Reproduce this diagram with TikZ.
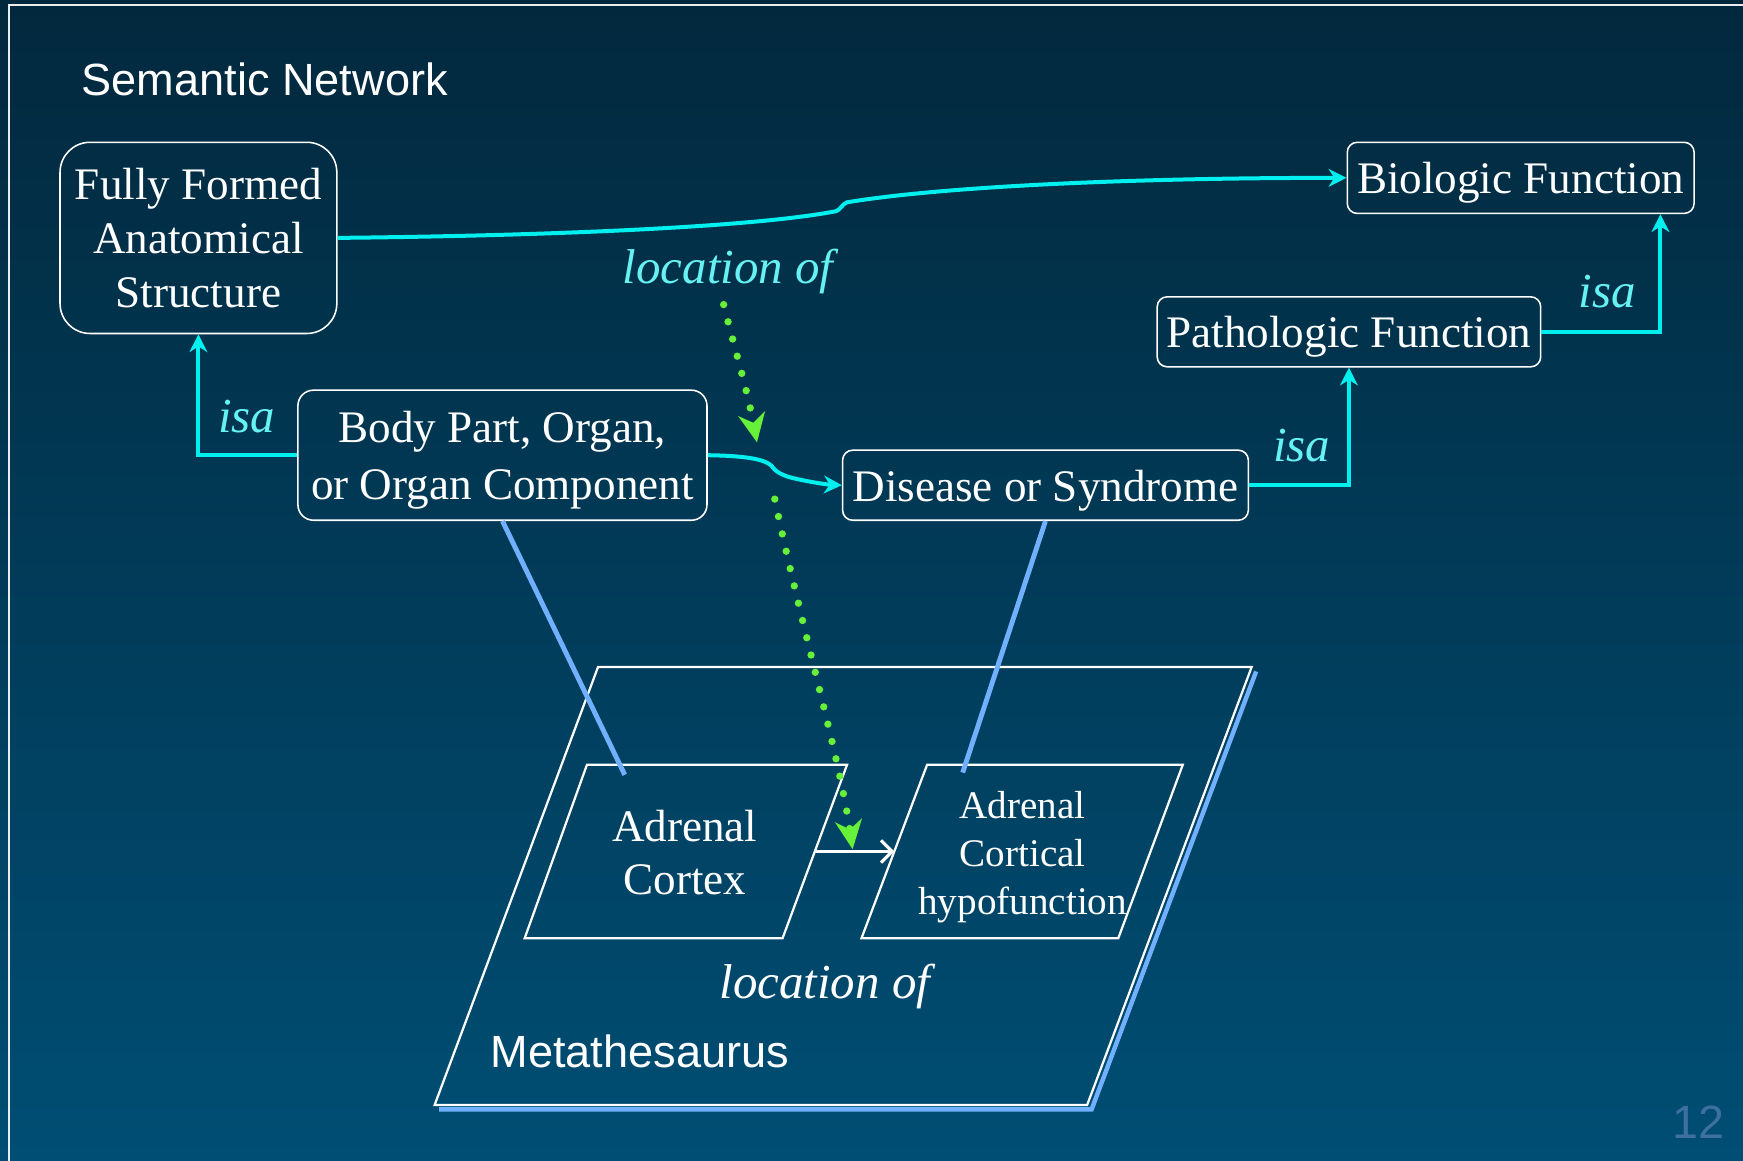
\documentclass[tikz,border=0pt]{standalone}
\usepackage{fontspec}
\setmainfont{Liberation Serif}
\setsansfont{Liberation Sans}
\usetikzlibrary{arrows.meta,calc}

\definecolor{bgtop}{HTML}{02283D}
\definecolor{bgbot}{HTML}{004E74}
\definecolor{cyanline}{HTML}{00F0F0}
\definecolor{cyanlabel}{HTML}{66F2F2}
\definecolor{lblue}{HTML}{70B0FF}
\definecolor{dotgreen}{HTML}{66F03A}
\definecolor{pagenum}{HTML}{3D6F9F}

\begin{document}
\begin{tikzpicture}[x=0.5pt,y=-0.5pt,
  box/.style={draw=white,line width=0.7pt,text=white,font=\fontsize{20.3}{24.3}\selectfont,align=center,inner sep=0pt},
  sbox/.style={box,rounded corners=4.5pt,text height=16pt,text depth=1.5pt},
  lbl/.style={text=cyanlabel,font=\fontsize{22}{26}\selectfont\itshape,inner sep=0pt},
  wtext/.style={text=white,align=center,inner sep=0pt},
  cyanarrow/.style={draw=cyanline,line width=1.8pt,-{Stealth[length=8pt,width=8pt,inset=2.5pt]}},
  greendot/.style={draw=dotgreen,line width=3.3pt,line cap=round,dash pattern=on 0pt off 8pt,-{Stealth[length=13pt,width=12pt,inset=4pt]}},
  lbline/.style={draw=lblue,line width=2.2pt},
  para/.style={draw=white,line width=1pt}
]
% background
\shade[top color=bgtop,bottom color=bgbot] (0,0) rectangle (1568,1044);
\useasboundingbox (0,0) rectangle (1568,1044);
% frame
\draw[white!92!bgtop,line width=0.9pt] (8,1044) -- (8,4.5) -- (1568,4.5);

% title
\node[anchor=base west,text=white,inner sep=0pt,font=\sffamily\fontsize{20.3}{24}\selectfont] (title) at (73,85.5) {Semantic Network};

% Metathesaurus plane
\coordinate (mTL) at (538,600);
\coordinate (mTR) at (1126,600);
\coordinate (mBR) at (978,994);
\coordinate (mBL) at (391,994);
\draw[lblue,line width=2pt] ($(mTR)+(4,4)$) -- ($(mBR)+(4,4)$) -- ($(mBL)+(4,4)$);
\draw[para] (mTL) -- (mTR) -- (mBR) -- (mBL) -- cycle;

% inner parallelograms
\coordinate (acTL) at (528,688);
\coordinate (acTR) at (762,688);
\coordinate (acBR) at (704,844);
\coordinate (acBL) at (472,844);
\draw[para] (acTL) -- (acTR) -- (acBR) -- (acBL) -- cycle;
\coordinate (hfTL) at (834,688);
\coordinate (hfTR) at (1064,688);
\coordinate (hfBR) at (1006,844);
\coordinate (hfBL) at (775,844);
\draw[para] (hfTL) -- (hfTR) -- (hfBR) -- (hfBL) -- cycle;

\node[wtext,font=\fontsize{20.3}{24}\selectfont] (actext) at (616,767) {Adrenal\\Cortex};
\node[wtext,font=\fontsize{17.6}{21.5}\selectfont] (hftext) at (920,771) {Adrenal\\Cortical\\hypofunction};

\node[anchor=base,text=white,inner sep=0pt,font=\fontsize{22}{26}\selectfont\itshape] (loc2) at (742,898) {location of};
\node[anchor=base west,text=white,inner sep=0pt,font=\sffamily\fontsize{20.3}{24}\selectfont] (meta) at (441,960) {Metathesaurus};

% white arrow between concepts
\coordinate (acR) at (733,766);
\coordinate (hfL) at (804.5,766);
\draw[white,line width=1.4pt,-{Straight Barb[length=5pt,width=10pt]}] (acR) -- (hfL);

% semantic network boxes
\node[box,rounded corners=13.5pt,minimum width=124.5pt,minimum height=86pt] (ffas) at (178.5,214) {Fully Formed\\Anatomical\\Structure};
\node[sbox,minimum width=156pt,minimum height=32pt] (bio) at (1368,160) {Biologic Function};
\node[sbox,minimum width=172.5pt,minimum height=31.5pt] (patho) at (1213.5,298.5) {Pathologic Function};
\node[box,rounded corners=7pt,minimum width=184pt,minimum height=58.5pt,text depth=0pt,font=\fontsize{20.3}{25.5}\selectfont] (bp) at (452,409.5) {Body Part, Organ,\\or Organ Component};
\node[sbox,minimum width=182.5pt,minimum height=31.5pt] (dis) at (940.5,436.5) {Disease or Syndrome};

% light blue mapping lines
\coordinate (acin) at (562,697);
\coordinate (hfin) at (866,695);
\draw[lbline] (bp.south) -- (acin);
\draw[lbline] (dis.south) -- (hfin);

% cyan connectors
\draw[cyanarrow] (ffas.east) .. controls (500,212) and (680,204) .. (752,190) .. controls (756,189) and (757,184) .. (762,182) .. controls (840,169) and (1000,160) .. (bio.west);
\draw[cyanarrow] (bp.east) .. controls (670,410) and (688,413) .. (694,419) .. controls (698,425) and (705,428) .. (713,430) .. controls (730,434) and (745,436) .. (dis.west);
\draw[cyanarrow] (bp.west) -| (ffas.south);
\draw[cyanarrow] (dis.east) -| (patho.south);
\draw[cyanarrow] (patho.east) -| ([xshift=-15.5pt]bio.south east);

% labels
\node[lbl,anchor=base] (isa1) at (222,389) {isa};
\node[lbl,anchor=base] (isa2) at (1171,415.6) {isa};
\node[lbl,anchor=base] (isa3) at (1446,277) {isa};
\node[lbl,anchor=base] (loc1) at (655,255) {location of};

% green dotted arrows
\coordinate (g1s) at (651,274);
\coordinate (g1e) at (681,398);
\coordinate (g2s) at (697,449);
\coordinate (g2e) at (767,764);
\draw[greendot] (g1s) .. controls (660,310) and (672,350) .. (g1e);
\draw[greendot] (g2s) .. controls (720,560) and (755,680) .. (g2e);

% page number
\node[anchor=base west,text=pagenum,inner sep=0pt,font=\sffamily\fontsize{21}{24}\selectfont] (pnum) at (1504,1024) {12};
\end{tikzpicture}
\end{document}
